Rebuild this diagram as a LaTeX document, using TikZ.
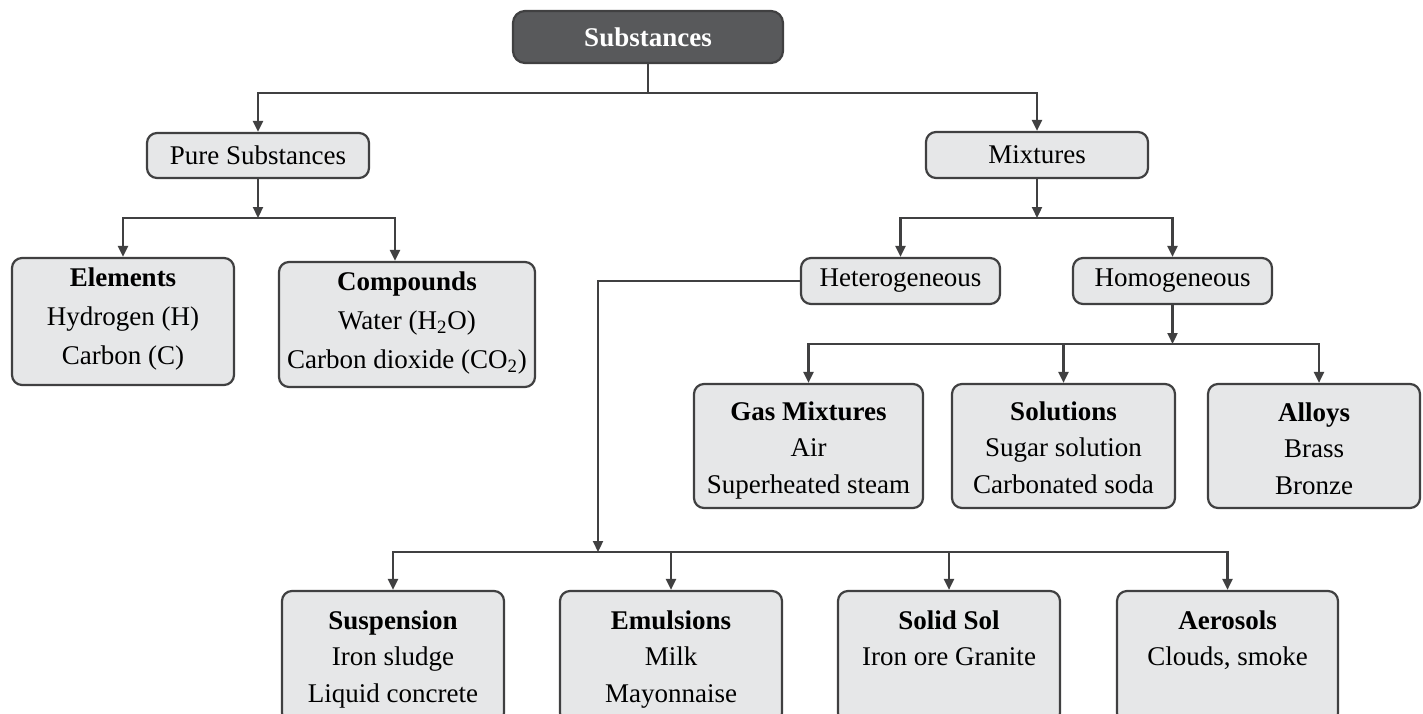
\documentclass[tikz,border=0pt]{standalone}
\usepackage{fontspec}
\setmainfont{Liberation Serif}
\usetikzlibrary{arrows.meta}
\definecolor{boxfill}{HTML}{E6E7E8}
\definecolor{linec}{HTML}{404041}
\definecolor{topfill}{HTML}{58595B}
\newcommand{\topln}[1]{\rule{0pt}{#1}}
\newcommand{\botln}{\rule[-5.4pt]{0pt}{5.4pt}}
\begin{document}
\begin{tikzpicture}[x=0.5pt,y=-0.5pt,
  box/.style={draw=linec, fill=boxfill, line width=1.1pt, rounded corners=5pt, inner sep=0pt, align=center, font=\fontsize{13.5}{18.25}\selectfont},
  arr/.style={draw=linec, line width=1.1pt, -{Triangle[length=5.5pt,width=5pt]}},
  ln/.style={draw=linec, line width=1.1pt}]
\useasboundingbox (0,0) rectangle (1423,713);
\clip (0,0) rectangle (1423,713);

\node[box, fill=topfill, text=white, rounded corners=6pt, font=\fontsize{13.5}{18}\selectfont\bfseries, minimum width=135pt, minimum height=26pt] (sub) at (648,37) {Substances};

\node[box, minimum width=111pt, minimum height=22.5pt] (pure) at (258,155.5) {Pure Substances};
\node[box, minimum width=111pt, minimum height=23pt] (mix) at (1037,155) {Mixtures};

\node[box, font=\fontsize{13.5}{19.5}\selectfont, minimum width=111pt, minimum height=63.5pt] (elem) at (123,321.5) {\topln{8.9pt}\textbf{Elements}\\Hydrogen (H)\\Carbon (C)\botln};
\node[box, font=\fontsize{13.5}{19.5}\selectfont, minimum width=128pt, minimum height=62.5pt] (comp) at (407,324.5) {\topln{9.9pt}\textbf{Compounds}\\Water (H\textsubscript{2}O)\\Carbon dioxide (CO\textsubscript{2})\botln};

\node[box, minimum width=99.5pt, minimum height=23pt] (het) at (900.5,281) {Heterogeneous};
\node[box, minimum width=99.5pt, minimum height=23pt] (hom) at (1172.5,281) {Homogeneous};

\node[box, minimum width=114.5pt, minimum height=62pt] (gas) at (808.5,446) {\topln{15.9pt}\textbf{Gas Mixtures}\\Air\\Superheated steam\botln};
\node[box, minimum width=111.5pt, minimum height=62pt] (sol) at (1063.5,446) {\topln{15.9pt}\textbf{Solutions}\\Sugar solution\\Carbonated soda\botln};
\node[box, minimum width=106pt, minimum height=62pt] (alloy) at (1314,446) {\topln{17pt}\textbf{Alloys}\\Brass\\Bronze\botln};

\node[box, minimum width=111pt, minimum height=66pt] (sus) at (393,657) {\topln{13.9pt}\textbf{Suspension}\\Iron sludge\\Liquid concrete\botln};
\node[box, minimum width=111pt, minimum height=66pt] (emu) at (671,657) {\topln{13.9pt}\textbf{Emulsions}\\Milk\\Mayonnaise\botln};
\node[box, minimum width=111pt, minimum height=66pt] (solid) at (949,657) {\topln{13.9pt}\textbf{Solid Sol}\\Iron ore Granite\\\botln};
\node[box, minimum width=110.5pt, minimum height=66pt] (aer) at (1227.5,657) {\topln{13.9pt}\textbf{Aerosols}\\Clouds, smoke\\\botln};

\coordinate (b0) at (648,93);
\coordinate (b1) at (258,218);
\coordinate (c1) at (395,218);
\coordinate (b2) at (1037,218);
\coordinate (b3) at (1172.5,344);
\coordinate (c3) at (1319,344);
\coordinate (b4) at (598,552);

\draw[ln] (sub) -- (b0);
\draw[arr] (b0) -| (pure);
\draw[arr] (b0) -| (mix);
\draw[arr] (pure) -- (b1);
\draw[arr] (b1) -| (elem);
\draw[arr] (b1) -- (c1) -- (c1 |- comp.north);
\draw[arr] (mix) -- (b2);
\draw[arr] (b2) -| (het);
\draw[arr] (b2) -| (hom);
\draw[arr] (hom) -- (b3);
\draw[arr] (b3) -| (gas);
\draw[arr] (b3) -| (sol);
\draw[arr] (b3) -- (c3) -- (c3 |- alloy.north);
\draw[arr] (het.west) -| (b4);
\draw[arr] (b4) -| (sus);
\draw[arr] (b4) -| (emu);
\draw[arr] (b4) -| (solid);
\draw[arr] (b4) -| (aer);
\end{tikzpicture}
\end{document}
